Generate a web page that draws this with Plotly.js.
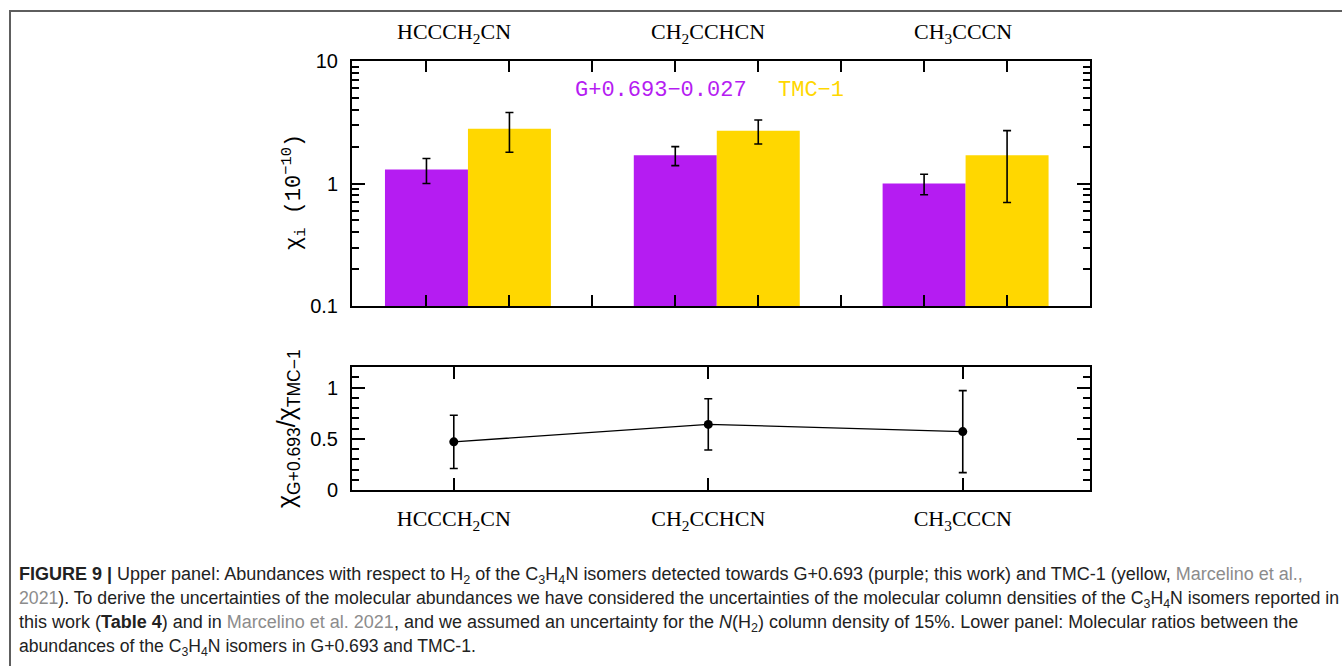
<!DOCTYPE html>
<html><head><meta charset="utf-8">
<script src="https://cdn.plot.ly/plotly-3.0.1.min.js"></script>
<style>
html,body{margin:0;padding:0;background:#fff;overflow:hidden;}
#chart{position:absolute;left:0;top:0;width:1342px;height:666px;}
#frame{position:absolute;left:9px;top:10px;width:1340px;height:660px;border-top:2px solid #5e5e5e;border-left:2px solid #5e5e5e;pointer-events:none;}
</style></head><body>
<div id="chart"></div><div id="frame"></div>
<script>
// ---- data ----
const categories = ['HCCCH<sub>2</sub>CN', 'CH<sub>2</sub>CCHCN', 'CH<sub>3</sub>CCCN'];
const seriesNames = ['G+0.693\u22120.027', 'TMC\u22121'];
const abundG = [1.3, 1.7, 1.0];
const abundGErr = [0.3, 0.3, 0.19];
const abundTMC = [2.8, 2.7, 1.7];
const abundTMCErr = [1.0, 0.6, 1.0];
const ratio = [0.47, 0.64, 0.57];
const ratioErr = [0.26, 0.25, 0.40];
const yTickVals = [0.1, 1, 10];
const yTickText = ['0.1', '1', '10'];
const ratioTickVals = [0, 0.5, 1];
const ratioTickText = ['0', '0.5', '1'];

// ---- styles ----
const purple = '#B51CF2', yellow = '#FFD700';
const W = 1342, H = 666;
const px = v => v / W, py = v => 1 - v / H;
const serif = 'Liberation Serif, Times New Roman, serif';
const sans = 'Liberation Sans, Arial, sans-serif';
const mono = 'Liberation Mono, Courier New, monospace';
const bargap = 0.333;
const off = (1 - bargap) / 4;

// upper-panel x tick positions (bar centres and group boundaries)
const upperTicks = [];
categories.forEach((c, i) => {
  upperTicks.push(i - off, i + off);
  if (i < categories.length - 1) upperTicks.push(i + 0.5);
});
const minorLog = [];
[0.1, 1].forEach(d => { for (let k = 2; k <= 9; k++) minorLog.push(+(d * k).toFixed(3)); });

const errStyle = {color: '#000', thickness: 1.6, width: 4};

const traces = [
  {type: 'bar', name: seriesNames[0], x: categories, y: abundG,
   marker: {color: purple, line: {width: 0}},
   error_y: Object.assign({type: 'data', array: abundGErr, visible: true}, errStyle),
   xaxis: 'x', yaxis: 'y', showlegend: false},
  {type: 'bar', name: seriesNames[1], x: categories, y: abundTMC,
   marker: {color: yellow, line: {width: 0}},
   error_y: Object.assign({type: 'data', array: abundTMCErr, visible: true}, errStyle),
   xaxis: 'x', yaxis: 'y', showlegend: false},
  {type: 'scatter', mode: 'lines+markers', name: 'ratio', x: categories, y: ratio,
   line: {color: '#000', width: 1.3}, marker: {color: '#000', size: 9},
   error_y: Object.assign({type: 'data', array: ratioErr, visible: true}, errStyle),
   xaxis: 'x2', yaxis: 'y2', showlegend: false}
];

const axisCommon = {showline: true, linecolor: '#000', linewidth: 2, mirror: 'ticks',
  ticks: 'inside', tickcolor: '#000', tickwidth: 2, showgrid: false, zeroline: false, fixedrange: true};

const grayTxt = s => '<span style="color:#8c8c8c">' + s + '</span>';
const captionLines = [
  '<b>FIGURE 9 | </b>Upper panel: Abundances with respect to H<sub>2</sub> of the C<sub>3</sub>H<sub>4</sub>N isomers detected towards G+0.693 (purple; this work) and TMC-1 (yellow, ' + grayTxt('Marcelino et al.,'),
  grayTxt('2021') + '). To derive the uncertainties of the molecular abundances we have considered the uncertainties of the molecular column densities of the C<sub>3</sub>H<sub>4</sub>N isomers reported in',
  'this work (<b>Table 4</b>) and in ' + grayTxt('Marcelino et al. 2021') + ', and we assumed an uncertainty for the <i>N</i>(H<sub>2</sub>) column density of 15%. Lower panel: Molecular ratios between the',
  'abundances of the C<sub>3</sub>H<sub>4</sub>N isomers in G+0.693 and TMC-1.'
];
const captionY = [575, 599, 623, 647];
const captionSize = [18, 17.7, 18, 17.6];

const annotations = [];
categories.forEach(c => annotations.push({xref: 'x2', yref: 'paper', x: c, y: py(33),
  text: c, showarrow: false, xanchor: 'center', yanchor: 'middle', font: {family: serif, size: 22, color: '#000'}}));
annotations.push({xref: 'paper', yref: 'paper', x: px(573), y: py(91), text: seriesNames[0], showarrow: false,
  xanchor: 'left', yanchor: 'middle', font: {family: mono, size: 22, color: purple}});
annotations.push({xref: 'paper', yref: 'paper', x: px(776), y: py(91), text: seriesNames[1], showarrow: false,
  xanchor: 'left', yanchor: 'middle', font: {family: mono, size: 22, color: yellow}});
annotations.push({xref: 'paper', yref: 'paper', x: px(294), y: py(192), textangle: -90,
  text: '\u03c7<sub>i</sub> (10<sup>\u221210</sup>)', showarrow: false, xanchor: 'center', yanchor: 'middle',
  font: {family: mono, size: 22, color: '#000'}});
annotations.push({xref: 'paper', yref: 'paper', x: px(288), y: py(429), textangle: -90,
  text: '\u03c7<sub>G+0.693</sub>/\u03c7<sub>TMC\u22121</sub>', showarrow: false, xanchor: 'center', yanchor: 'middle',
  font: {family: sans, size: 25, color: '#000'}});
captionLines.forEach((t, i) => annotations.push({xref: 'paper', yref: 'paper', x: px(17), y: py(captionY[i]),
  text: t, showarrow: false, xanchor: 'left', yanchor: 'middle', align: 'left',
  font: {family: sans, size: captionSize[i], color: '#222'}}));

const layout = {
  width: W, height: H, margin: {l: 0, r: 0, t: 0, b: 0},
  paper_bgcolor: '#fff', plot_bgcolor: '#fff',
  barmode: 'group', bargap: bargap, bargroupgap: 0,
  xaxis: Object.assign({}, axisCommon, {type: 'category', domain: [px(352), px(1090)], anchor: 'y',
    range: [-0.466, 2.5], tickmode: 'array', tickvals: upperTicks, showticklabels: false, ticklen: 11}),
  yaxis: Object.assign({}, axisCommon, {type: 'log', domain: [py(306), py(61)], anchor: 'x',
    range: [-1, 1], tickmode: 'array', tickvals: yTickVals, ticktext: yTickText, ticklen: 13,
    ticklabelstandoff: 8, tickfont: {family: sans, size: 20, color: '#000'},
    minor: {tickmode: 'array', tickvals: minorLog, ticklen: 7, tickwidth: 2, tickcolor: '#000', ticks: 'inside', showgrid: false}}),
  xaxis2: Object.assign({}, axisCommon, {type: 'category', domain: [px(352), px(1090)], anchor: 'y2',
    range: [-0.4, 2.5], ticklen: 12, ticklabelstandoff: 8,
    tickfont: {family: serif, size: 22, color: '#000'}}),
  yaxis2: Object.assign({}, axisCommon, {domain: [py(490), py(367)], anchor: 'x2',
    range: [0, 1.2], tickmode: 'array', tickvals: ratioTickVals, ticktext: ratioTickText, ticklen: 13,
    ticklabelstandoff: 8, tickfont: {family: sans, size: 20, color: '#000'},
    minor: {dtick: 0.1, tick0: 0, ticklen: 7, tickwidth: 2, tickcolor: '#000', ticks: 'inside', showgrid: false}}),
  annotations: annotations,
  font: {family: sans, color: '#000'}
};

Plotly.newPlot('chart', traces, layout, {staticPlot: true, displayModeBar: false});
</script>
</body></html>
